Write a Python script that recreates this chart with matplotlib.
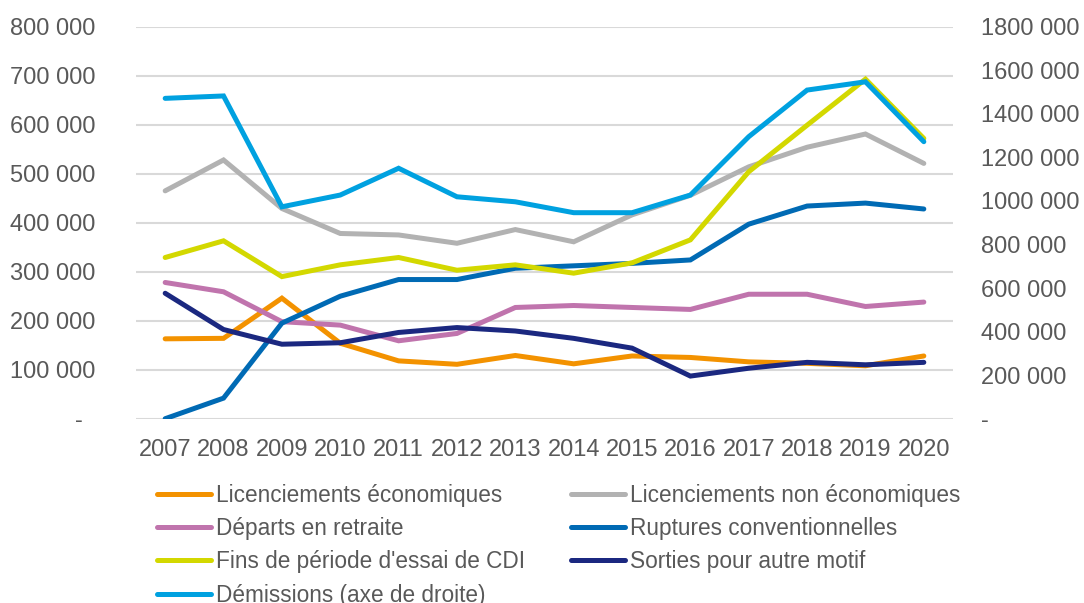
import matplotlib
matplotlib.use("Agg")
import matplotlib.pyplot as plt
from matplotlib.ticker import FuncFormatter, MultipleLocator

plt.rcParams['font.family'] = ['Liberation Sans', 'DejaVu Sans']

years = ["2007", "2008", "2009", "2010", "2011", "2012", "2013",
         "2014", "2015", "2016", "2017", "2018", "2019", "2020"]

lic_eco = [163000, 164000, 246000, 154000, 118000, 111000, 129000,
           112000, 128000, 125000, 116000, 113000, 108000, 128000]
lic_non_eco = [465000, 528000, 429000, 378000, 375000, 358000, 386000,
               361000, 416000, 456000, 514000, 554000, 581000, 521000]
departs_retraite = [278000, 259000, 198000, 191000, 159000, 174000, 227000,
                    231000, 227000, 223000, 254000, 254000, 229000, 238000]
ruptures_conv = [0, 42000, 195000, 250000, 284000, 284000, 307000,
                 312000, 317000, 324000, 397000, 434000, 440000, 428000]
fins_essai = [329000, 363000, 290000, 314000, 329000, 303000, 314000,
              297000, 318000, 365000, 504000, 599000, 693000, 572000]
sorties_autre = [256000, 182000, 152000, 155000, 176000, 186000, 179000,
                 164000, 144000, 87000, 103000, 115000, 110000, 115000]
demissions = [1471000, 1482000, 973000, 1027000, 1150000, 1019000, 996000,
              946000, 946000, 1027000, 1295000, 1509000, 1547000, 1272000]

labels = ["Licenciements économiques", "Licenciements non économiques",
          "Départs en retraite", "Ruptures conventionnelles",
          "Fins de période d'essai de CDI", "Sorties pour autre motif",
          "Démissions (axe de droite)"]
colors = ["#F39200", "#B2B2B2", "#C074AD", "#006AB4", "#D3D800", "#1B2880", "#00A1E0"]

TXT = "#595959"
FS = 17
LFS = 16.3
LW = 3.6

fig = plt.figure(figsize=(10.84, 6.03), dpi=100)
ax = fig.add_axes([136/1084, 1 - 418.7/603, (953-136)/1084, (418.7-26.7)/603])
ax2 = ax.twinx()

x = list(range(len(years)))
left_series = [lic_eco, lic_non_eco, departs_retraite, ruptures_conv, fins_essai, sorties_autre]
handles = []
for i, s in enumerate(left_series):
    h, = ax.plot(x, s, color=colors[i], lw=LW, solid_capstyle='round', solid_joinstyle='miter', label=labels[i])
    handles.append(h)
h, = ax2.plot(x, demissions, color=colors[6], lw=LW, solid_capstyle='round', solid_joinstyle='miter', label=labels[6])
handles.append(h)

ax.set_xlim(-0.5, len(years) - 0.5)
ax.set_ylim(0, 800000)
ax2.set_ylim(0, 1800000)
ax.yaxis.set_major_locator(MultipleLocator(100000))
ax2.yaxis.set_major_locator(MultipleLocator(200000))

def fmt(v, pos):
    if abs(v) < 1:
        return "-  "
    return f"{int(round(v)):,}".replace(",", " ")

def fmt_r(v, pos):
    if abs(v) < 1:
        return "-"
    s = f"{int(round(v)):,}".replace(",", " ")
    if v >= 1000000:
        s = s.replace(" ", "", 1)
    return s

ax.yaxis.set_major_formatter(FuncFormatter(fmt))
ax2.yaxis.set_major_formatter(FuncFormatter(fmt_r))

ax.set_xticks(x)
ax.set_xticklabels(years)

ax.grid(axis='y', color="#D9D9D9", lw=1.5)
ax.set_axisbelow(True)
for a in (ax, ax2):
    for sp in a.spines.values():
        sp.set_visible(False)

ax.tick_params(axis='y', length=0, pad=29, labelsize=FS, labelcolor=TXT)
ax.tick_params(axis='x', length=0, pad=14.5, labelsize=FS, labelcolor=TXT)
ax2.tick_params(axis='y', length=0, pad=20.5, labelsize=FS, labelcolor=TXT)

order = [0, 2, 4, 6, 1, 3, 5]
leg = fig.legend([handles[i] for i in order], [labels[i] for i in order],
                 loc='upper left', bbox_to_anchor=(157/1084, 1 - 484/603),
                 ncol=2, frameon=False, fontsize=LFS, handlelength=2.4,
                 handletextpad=0.22, columnspacing=2.0, labelspacing=0.45,
                 borderaxespad=0, borderpad=0)
for t in leg.get_texts():
    t.set_color(TXT)

fig.savefig("out.png", dpi=100)
